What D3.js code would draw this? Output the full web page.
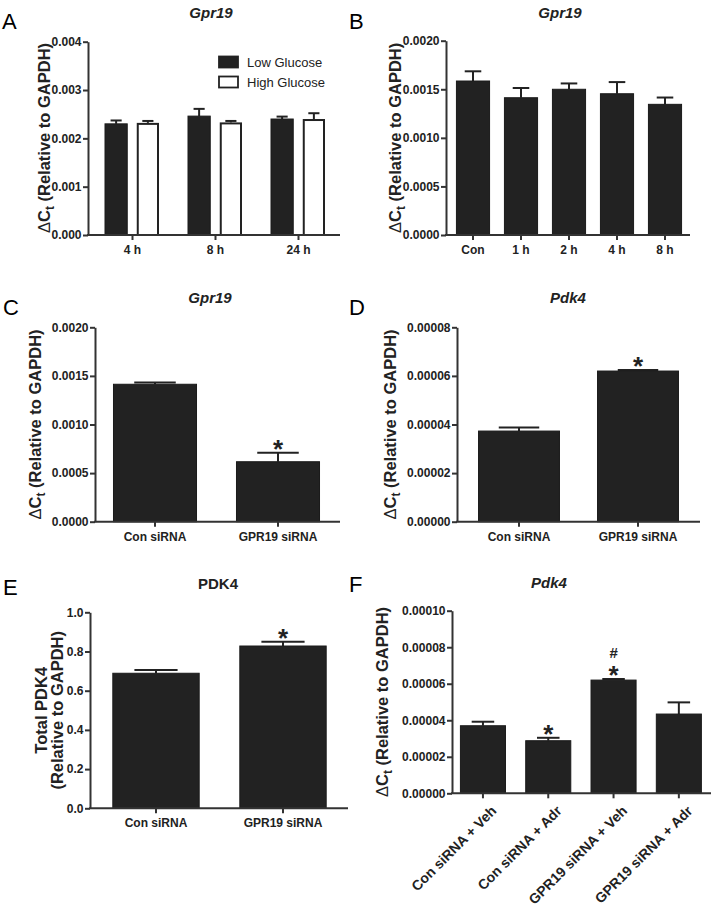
<!DOCTYPE html>
<html><head><meta charset="utf-8">
<script src="https://cdn.jsdelivr.net/npm/d3@7"></script>
<style>
body{margin:0;background:#fff}
svg{display:block}
text{font-family:"Liberation Sans",Arial,Helvetica,sans-serif}
</style>
</head><body>
<svg id="c" width="714" height="906"></svg>
<script>
// ---------- DATA ----------
// Panel A
const aGroups = ["4 h", "8 h", "24 h"];
const aSeries = ["Low Glucose", "High Glucose"];
const aLow = [0.00230, 0.00246, 0.00240];
const aLowErr = [0.00007, 0.00015, 0.00005];
const aHigh = [0.00232, 0.00233, 0.00240];
const aHighErr = [0.00004, 0.00003, 0.00012];
const aTicks = [0, 0.001, 0.002, 0.003, 0.004];
// Panel B
const bCats = ["Con", "1 h", "2 h", "4 h", "8 h"];
const bVals = [0.001585, 0.001413, 0.00150, 0.001454, 0.001345];
const bErr = [0.00010, 0.00010, 0.00006, 0.00012, 0.00007];
const bTicks = [0, 0.0005, 0.0010, 0.0015, 0.0020];
// Panel C
const cCats = ["Con siRNA", "GPR19 siRNA"];
const cVals = [0.001414, 0.000617];
const cErr = [0.000017, 0.000093];
const cMarks = ["", "*"];
const cTicks = [0, 0.0005, 0.0010, 0.0015, 0.0020];
// Panel D
const dCats = ["Con siRNA", "GPR19 siRNA"];
const dVals = [0.0000373, 0.0000620];
const dErr = [0.0000015, 0.0000004];
const dMarks = ["", "*"];
const dTicks = [0, 0.00002, 0.00004, 0.00006, 0.00008];
// Panel E
const eCats = ["Con siRNA", "GPR19 siRNA"];
const eVals = [0.689, 0.828];
const eErr = [0.017, 0.022];
const eMarks = ["", "*"];
const eTicks = [0, 0.2, 0.4, 0.6, 0.8, 1.0];
// Panel F
const fCats = ["Con siRNA + Veh", "Con siRNA + Adr", "GPR19 siRNA + Veh", "GPR19 siRNA + Adr"];
const fVals = [0.0000370, 0.0000288, 0.0000620, 0.0000434];
const fErr = [0.0000022, 0.0000016, 0.0000006, 0.0000064];
const fMarks = ["", "*", "#*", ""];
const fTicks = [0, 0.00002, 0.00004, 0.00006, 0.00008, 0.00010];

// ---------- DRAWING ----------
const svg = d3.select("#c");
const INK = "#222";
const AX = "#333";
const LABEL_FS = 16.5;

function yLabel(x, yc, kind, extra) {
  if (kind === "dct") {
    const t = svg.append("text")
      .attr("transform", `translate(${x},${yc}) rotate(-90)`)
      .attr("text-anchor", "middle")
      .attr("font-size", LABEL_FS).attr("font-weight", "bold").attr("fill", INK);
    t.append("tspan").attr("font-weight", "normal").text("\u0394");
    t.append("tspan").text("C");
    t.append("tspan").attr("font-size", 12).attr("dy", 4).text("t");
    t.append("tspan").attr("dy", -4).text(" (Relative to GAPDH)");
  } else {
    extra.forEach((ln, i) => {
      svg.append("text")
        .attr("transform", `translate(${x + i * 16},${yc}) rotate(-90)`)
        .attr("text-anchor", "middle")
        .attr("font-size", LABEL_FS).attr("font-weight", "bold").attr("fill", INK)
        .text(ln);
    });
  }
}

function frame(cfg, y, centers) {
  const ya = d3.axisLeft(y).tickValues(cfg.ticks).tickFormat(cfg.fmt)
    .tickSize(5).tickSizeOuter(0).tickPadding(1.5);
  const gy = svg.append("g").attr("transform", `translate(${cfg.axisX},0)`).call(ya);
  gy.select(".domain").attr("stroke", AX).attr("stroke-width", 2);
  gy.selectAll(".tick line").attr("stroke", AX).attr("stroke-width", 2);
  gy.selectAll(".tick text").attr("font-size", 12).attr("font-weight", "bold")
    .attr("fill", INK).attr("font-family", '"Liberation Sans",Arial,sans-serif');
  const y0 = y(0);
  svg.append("line").attr("x1", cfg.axisX - 1).attr("x2", cfg.xEnd)
    .attr("y1", y0).attr("y2", y0).attr("stroke", AX).attr("stroke-width", 2);
  centers.forEach(c => {
    svg.append("line").attr("x1", c.x).attr("x2", c.x).attr("y1", y0).attr("y2", y0 + 5)
      .attr("stroke", AX).attr("stroke-width", 2);
    if (cfg.rotate) {
      svg.append("text")
        .attr("transform", `translate(${c.x + 11},${y0 + 15}) rotate(-45)`)
        .attr("text-anchor", "end").attr("dy", "0.35em")
        .attr("font-size", 14).attr("font-weight", "bold").attr("fill", INK).text(c.label);
    } else {
      svg.append("text").attr("x", c.x).attr("y", y0 + 19)
        .attr("text-anchor", "middle")
        .attr("font-size", 12).attr("font-weight", "bold").attr("fill", INK).text(c.label);
    }
  });
  svg.append("text").attr("x", cfg.titleX).attr("y", cfg.titleY)
    .attr("text-anchor", "middle").attr("font-size", 15).attr("font-weight", "bold")
    .attr("font-style", cfg.italic ? "italic" : "normal").attr("fill", INK).text(cfg.title);
  svg.append("text").attr("x", cfg.letterX).attr("y", cfg.letterY)
    .attr("font-size", 22).attr("fill", "#000").text(cfg.letter);
}

function bar(x, w, v, e, y, filled) {
  const top = y(v), y0 = y(0);
  const cw = w * 0.5;
  svg.append("line").attr("x1", x + w / 2).attr("x2", x + w / 2)
    .attr("y1", top).attr("y2", y(v + e)).attr("stroke", INK).attr("stroke-width", 2);
  svg.append("line").attr("x1", x + w / 2 - cw / 2).attr("x2", x + w / 2 + cw / 2)
    .attr("y1", y(v + e)).attr("y2", y(v + e)).attr("stroke", INK).attr("stroke-width", 2);
  if (filled) {
    svg.append("rect").attr("x", x).attr("y", top).attr("width", w).attr("height", y0 - top)
      .attr("fill", "#222").attr("stroke", "#1a1a1a").attr("stroke-width", 1);
  } else {
    svg.append("rect").attr("x", x + 1).attr("y", top + 1).attr("width", w - 2).attr("height", y0 - top - 1)
      .attr("fill", "#fff").attr("stroke", INK).attr("stroke-width", 2);
  }
}

function marks(cx, capY, m) {
  if (!m) return;
  const base = capY + 5;
  if (m.includes("*")) {
    svg.append("text").attr("x", cx).attr("y", base).attr("text-anchor", "middle")
      .attr("font-size", 26).attr("font-weight", "bold").attr("fill", INK).text("*");
  }
  if (m.includes("#")) {
    svg.append("text").attr("x", cx).attr("y", base - 26).attr("text-anchor", "middle")
      .attr("font-size", 15).attr("font-weight", "bold").attr("fill", INK).text("#");
  }
}

function simplePanel(cfg) {
  const y = d3.scaleLinear().domain([0, cfg.ticks[cfg.ticks.length - 1]]).range(cfg.yRange);
  const x = d3.scaleBand().domain(cfg.cats).range(cfg.band).paddingInner(cfg.pad).paddingOuter(cfg.pad / 2);
  cfg.cats.forEach((c, i) => {
    bar(x(c), x.bandwidth(), cfg.vals[i], cfg.errs[i], y, true);
  });
  if (cfg.marks) cfg.cats.forEach((c, i) => {
    marks(x(c) + x.bandwidth() / 2, y(cfg.vals[i] + cfg.errs[i]), cfg.marks[i]);
  });
  frame(cfg, y, cfg.cats.map(c => ({x: x(c) + x.bandwidth() / 2, label: c})));
  yLabel(cfg.labelX, (cfg.yRange[0] + cfg.yRange[1]) / 2, cfg.labelKind || "dct", cfg.labelLines);
}

// Panel A (grouped)
(function () {
  const cfg = {axisX: 88, xEnd: 340, ticks: aTicks, fmt: d3.format(".3f"),
    title: "Gpr19", italic: true, titleX: 211, titleY: 18, letter: "A", letterX: 2, letterY: 29};
  const y = d3.scaleLinear().domain([0, 0.004]).range([235, 41.7]);
  const x = d3.scaleBand().domain(aGroups).range([91, 340]).padding(0);
  const sub = d3.scaleBand().domain(aSeries).range([14, 68]).paddingInner(0.3);
  aGroups.forEach((g, i) => {
    bar(x(g) + sub(aSeries[0]), sub.bandwidth(), aLow[i], aLowErr[i], y, true);
    bar(x(g) + sub(aSeries[1]), sub.bandwidth(), aHigh[i], aHighErr[i], y, false);
  });
  frame(cfg, y, aGroups.map(g => ({x: x(g) + x.bandwidth() / 2, label: g})));
  yLabel(50, 138, "dct");
  const lg = [{s: aSeries[0], fill: "#222", y: 56}, {s: aSeries[1], fill: "#fff", y: 76}];
  lg.forEach(d => {
    svg.append("rect").attr("x", 219).attr("y", d.y + 0.5).attr("width", 19).attr("height", 11)
      .attr("fill", d.fill).attr("stroke", "#222").attr("stroke-width", 1.8);
    svg.append("text").attr("x", 247).attr("y", d.y + 11).attr("font-size", 13)
      .attr("fill", INK).text(d.s);
  });
})();

simplePanel({cats: bCats, vals: bVals, errs: bErr, ticks: bTicks, fmt: d3.format(".4f"),
  yRange: [235, 40.7], band: [449, 689], pad: 0.31, axisX: 446, xEnd: 690,
  title: "Gpr19", italic: true, titleX: 560, titleY: 18, letter: "B", letterX: 349, letterY: 29, labelX: 401});

simplePanel({cats: cCats, vals: cVals, errs: cErr, marks: cMarks, ticks: cTicks, fmt: d3.format(".4f"),
  yRange: [521.7, 327.3], band: [93.5, 339.5], pad: 0.325, axisX: 95, xEnd: 340,
  title: "Gpr19", italic: true, titleX: 210, titleY: 303, letter: "C", letterX: 3, letterY: 315, labelX: 41});

simplePanel({cats: dCats, vals: dVals, errs: dErr, marks: dMarks, ticks: dTicks, fmt: d3.format(".5f"),
  yRange: [521.7, 327.3], band: [459.5, 697.5], pad: 0.32, axisX: 457, xEnd: 700,
  title: "Pdk4", italic: true, titleX: 568, titleY: 303, letter: "D", letterX: 349, letterY: 315, labelX: 396});

simplePanel({cats: eCats, vals: eVals, errs: eErr, marks: eMarks, ticks: eTicks, fmt: d3.format(".1f"),
  yRange: [808.3, 612.3], band: [92.5, 346.5], pad: 0.32, axisX: 90, xEnd: 348,
  title: "PDK4", italic: false, titleX: 218, titleY: 589, letter: "E", letterX: 3, letterY: 595,
  labelX: 47, labelKind: "lines", labelLines: ["Total PDK4", "(Relative to GAPDH)"]});

simplePanel({cats: fCats, vals: fVals, errs: fErr, marks: fMarks, ticks: fTicks, fmt: d3.format(".5f"),
  yRange: [793.3, 610.7], band: [450.3, 711.5], pad: 0.31, axisX: 452, xEnd: 711, rotate: true,
  title: "Pdk4", italic: true, titleX: 549, titleY: 588, letter: "F", letterX: 349, letterY: 592, labelX: 388});
</script>
</body></html>
